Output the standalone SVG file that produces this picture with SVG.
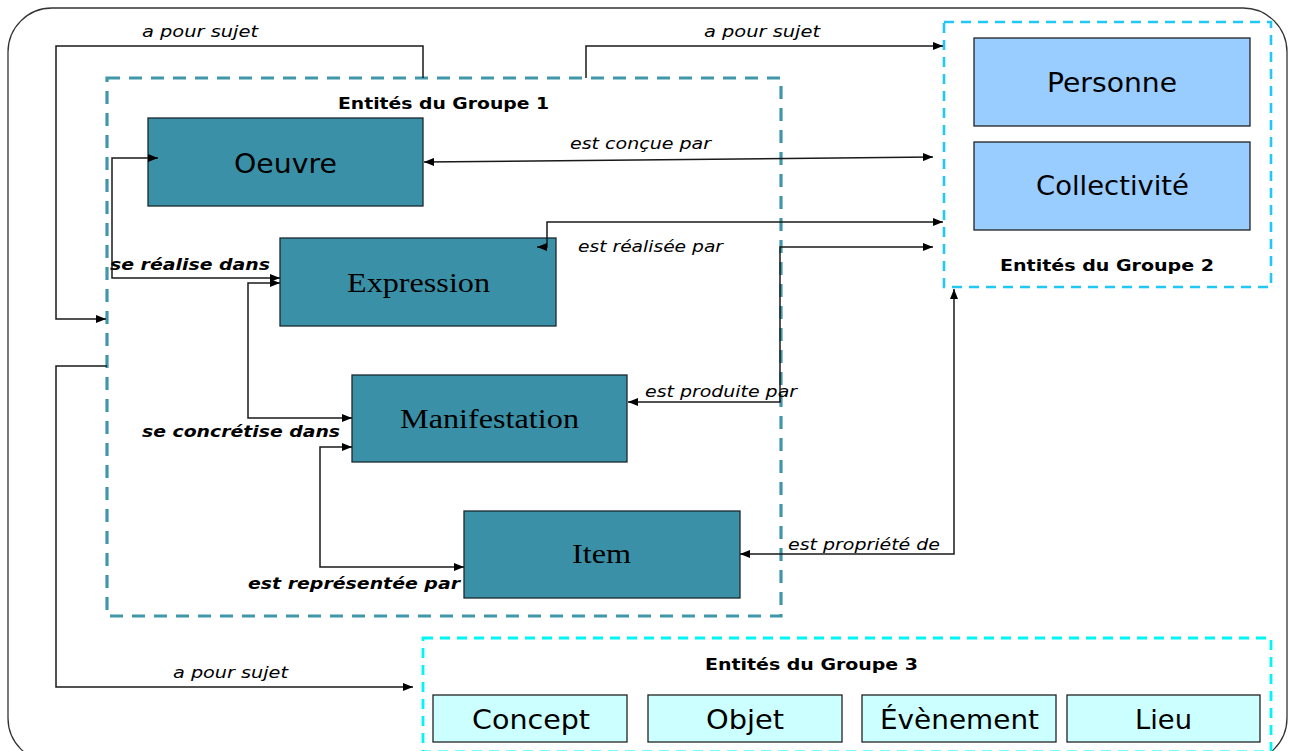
<svg xmlns="http://www.w3.org/2000/svg" width="1296" height="751" viewBox="0 0 1296 751">
<defs>
<marker id="ah" viewBox="0 0 10 8" refX="10" refY="4" markerWidth="11" markerHeight="8" markerUnits="userSpaceOnUse" orient="auto-start-reverse">
<path d="M0,0 L10,4 L0,8 Z" fill="#000"/>
</marker>
<style>
.frame{fill:#fff;stroke:#333;stroke-width:1.3}
.g1{fill:none;stroke:#4197aa;stroke-width:3.2;stroke-dasharray:13 9}
.g2{fill:none;stroke:#22c8f5;stroke-width:2.6;stroke-dasharray:10 7}
.g3{fill:none;stroke:#00f5f5;stroke-width:2.8;stroke-dasharray:10 7}
.teal{fill:#3a90a7;stroke:#1a2a30;stroke-width:1.3}
.blue{fill:#99ccff;stroke:#222;stroke-width:1.3}
.cyan{fill:#ccffff;stroke:#222;stroke-width:1.3}
.sans{font-family:"DejaVu Sans","Liberation Sans",sans-serif;fill:#000}
.serif{font-family:"Liberation Serif","DejaVu Serif",serif;fill:#000}
.nt{font-size:27px}
.st{font-size:27px}
.lab{font-family:"DejaVu Sans","Liberation Sans",sans-serif;font-style:italic;font-size:16px;fill:#000}
.blab{font-family:"DejaVu Sans","Liberation Sans",sans-serif;font-style:italic;font-weight:bold;font-size:16px;fill:#000}
.title{font-family:"DejaVu Sans","Liberation Sans",sans-serif;font-weight:bold;font-size:16px;fill:#000}
.con{fill:none;stroke:#1a1a1a;stroke-width:1.5}
</style>
</defs>
<rect class="frame" x="8" y="8" width="1279" height="754" rx="44" ry="44"/>

<g id="groupe1">
<rect class="g1" x="107" y="78" width="674" height="538"/>
<text class="title" x="338" y="109" textLength="211" lengthAdjust="spacingAndGlyphs">Entités du Groupe 1</text>
</g>
<g id="groupe2">
<rect class="g2" x="944" y="22" width="327" height="265"/>
<text class="title" x="1000" y="271" textLength="214" lengthAdjust="spacingAndGlyphs">Entités du Groupe 2</text>
</g>
<g id="groupe3">
<rect class="g3" x="423" y="638" width="848" height="114"/>
<text class="title" x="705" y="670" textLength="213" lengthAdjust="spacingAndGlyphs">Entités du Groupe 3</text>
</g>

<g id="oeuvre">
<rect class="teal" x="148" y="118" width="275" height="88"/>
<text class="sans nt" x="234" y="173" textLength="103" lengthAdjust="spacingAndGlyphs">Oeuvre</text>
</g>
<g id="expression">
<rect class="teal" x="280" y="238" width="276" height="88"/>
<text class="serif st" x="347" y="292" textLength="143" lengthAdjust="spacingAndGlyphs">Expression</text>
</g>
<g id="manifestation">
<rect class="teal" x="352" y="375" width="275" height="87"/>
<text class="serif st" x="400" y="428" textLength="179" lengthAdjust="spacingAndGlyphs">Manifestation</text>
</g>
<g id="item">
<rect class="teal" x="464" y="511" width="276" height="87"/>
<text class="serif st" x="572" y="563" textLength="59" lengthAdjust="spacingAndGlyphs">Item</text>
</g>
<g id="personne">
<rect class="blue" x="974" y="38" width="276" height="88"/>
<text class="sans nt" x="1047" y="92" textLength="130" lengthAdjust="spacingAndGlyphs">Personne</text>
</g>
<g id="collectivite">
<rect class="blue" x="974" y="142" width="276" height="88"/>
<text class="sans nt" x="1036" y="195" textLength="153" lengthAdjust="spacingAndGlyphs">Collectivité</text>
</g>
<g id="concept">
<rect class="cyan" x="433" y="695" width="194" height="47"/>
<text class="sans nt" x="472" y="729" textLength="118" lengthAdjust="spacingAndGlyphs">Concept</text>
</g>
<g id="objet">
<rect class="cyan" x="648" y="695" width="194" height="47"/>
<text class="sans nt" x="706" y="729" textLength="78" lengthAdjust="spacingAndGlyphs">Objet</text>
</g>
<g id="evenement">
<rect class="cyan" x="862" y="695" width="194" height="47"/>
<text class="sans nt" x="880" y="729" textLength="159" lengthAdjust="spacingAndGlyphs">Évènement</text>
</g>
<g id="lieu">
<rect class="cyan" x="1067" y="695" width="193" height="47"/>
<text class="sans nt" x="1135" y="729" textLength="57" lengthAdjust="spacingAndGlyphs">Lieu</text>
</g>

<g id="connectors">
<path class="con" d="M423,78 V46 H56 V319 H106" marker-end="url(#ah)"/>
<path class="con" d="M586,78 V46 H943" marker-end="url(#ah)"/>
<path class="con" d="M107,366 H56 V687 H413" marker-end="url(#ah)"/>
<path class="con" d="M424,162 L933,157" marker-start="url(#ah)" marker-end="url(#ah)"/>
<path class="con" d="M943,222 H547 V247 H537" marker-start="url(#ah)" marker-end="url(#ah)"/>
<path class="con" d="M933,247 H780 V402 H628" marker-start="url(#ah)" marker-end="url(#ah)"/>
<path class="con" d="M740,554 H954 V289" marker-start="url(#ah)" marker-end="url(#ah)"/>
<path class="con" d="M158,158 H112 V278 H280" marker-start="url(#ah)" marker-end="url(#ah)"/>
<path class="con" d="M280,283 H248 V418 H352" marker-start="url(#ah)" marker-end="url(#ah)"/>
<path class="con" d="M352,447 H320 V567 H464" marker-start="url(#ah)" marker-end="url(#ah)"/>
<text class="lab" x="142" y="37" textLength="116" lengthAdjust="spacingAndGlyphs">a pour sujet</text>
<text class="lab" x="704" y="37" textLength="116" lengthAdjust="spacingAndGlyphs">a pour sujet</text>
<text class="lab" x="173" y="678" textLength="115" lengthAdjust="spacingAndGlyphs">a pour sujet</text>
<text class="lab" x="570" y="149" textLength="141" lengthAdjust="spacingAndGlyphs">est conçue par</text>
<text class="lab" x="578" y="252" textLength="145" lengthAdjust="spacingAndGlyphs">est réalisée par</text>
<text class="lab" x="645" y="397" textLength="152" lengthAdjust="spacingAndGlyphs">est produite par</text>
<text class="lab" x="788" y="550" textLength="152" lengthAdjust="spacingAndGlyphs">est propriété de</text>
<text class="blab" x="110" y="270" textLength="160" lengthAdjust="spacingAndGlyphs">se réalise dans</text>
<text class="blab" x="142" y="437" textLength="198" lengthAdjust="spacingAndGlyphs">se concrétise dans</text>
<text class="blab" x="248" y="589" textLength="212" lengthAdjust="spacingAndGlyphs">est représentée par</text>
</g>
</svg>
